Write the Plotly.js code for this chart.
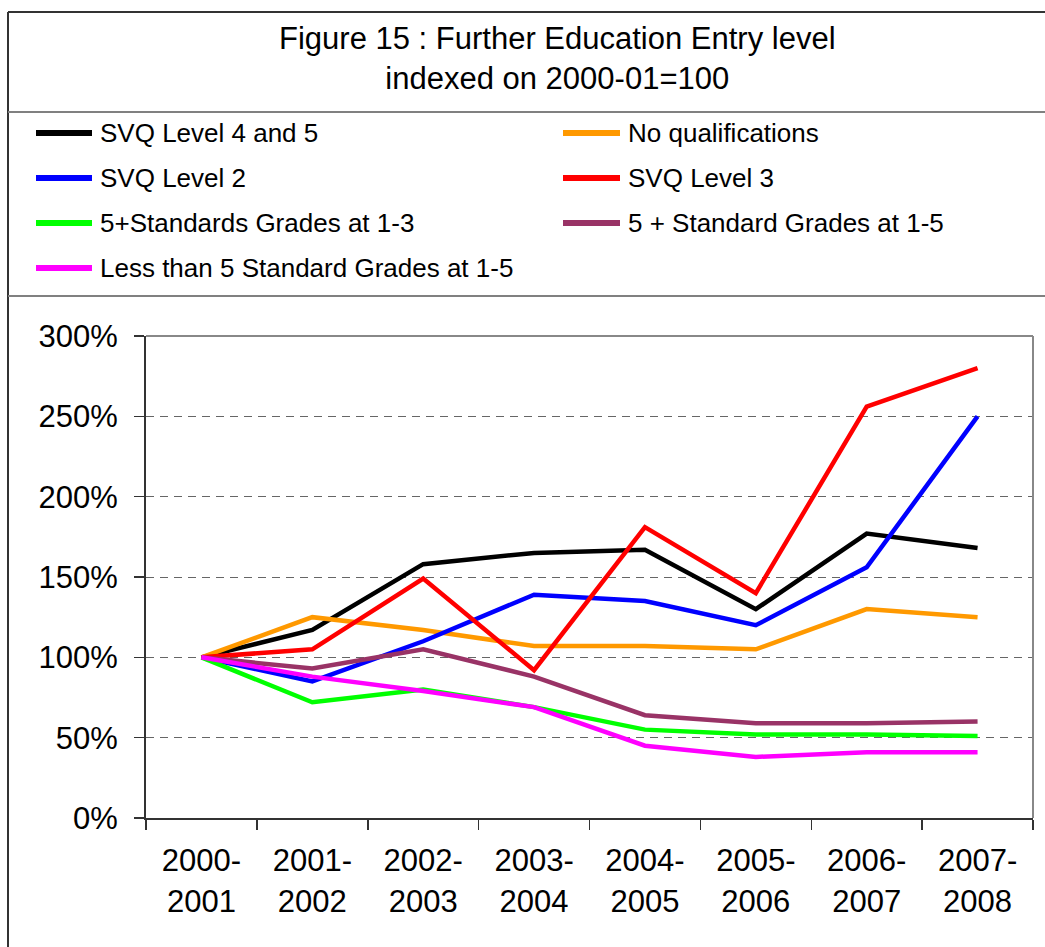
<!DOCTYPE html>
<html>
<head>
<meta charset="utf-8">
<script src="https://cdn.plot.ly/plotly-3.0.1.min.js"></script>
<style>html,body{margin:0;padding:0;background:#fff;}#chart{width:1045px;height:947px;}</style>
</head>
<body>
<div id="chart"></div>
<script>
var categories = ['2000-<br>2001','2001-<br>2002','2002-<br>2003','2003-<br>2004','2004-<br>2005','2005-<br>2006','2006-<br>2007','2007-<br>2008'];
var svq45   = [100,117,158,165,167,130,177,168];
var noQual  = [100,125,117,107,107,105,130,125];
var svq2    = [100,85,110,139,135,120,156,250];
var svq3    = [100,105,149,92,181,140,256,280];
var sg13    = [100,72,80,69,55,52,52,51];
var sg15    = [100,93,105,88,64,59,59,60];
var less5   = [100,88,79,69,45,38,41,41];
var seriesNames = ['SVQ Level 4 and 5','No qualifications','SVQ Level 2','SVQ Level 3','5+Standards Grades at 1-3','5 + Standard Grades at 1-5','Less than 5 Standard Grades at 1-5'];
var seriesData = [svq45, noQual, svq2, svq3, sg13, sg15, less5];
var colors = ['#000000','#FF9900','#0000FF','#FF0000','#00FF00','#993366','#FF00FF'];

var W = 1045, H = 947, L = 146, R = 1033, T = 336, B = 818;
function px(x){ return (x - L) / (R - L); }
function py(y){ return (B - y) / (B - T); }

var traces = seriesData.map(function(d, i){
  return {x: categories, y: d, type: 'scatter', mode: 'lines', name: seriesNames[i],
    line: {color: colors[i], width: 4.5}, hoverinfo: 'skip'};
});

var shapes = [];
var annotations = [];
// figure frame
shapes.push({type:'line', xref:'paper', yref:'paper', x0:px(8), x1:px(1045), y0:py(12), y1:py(12), line:{color:'#333333', width:2}});
shapes.push({type:'line', xref:'paper', yref:'paper', x0:px(8), x1:px(8), y0:py(12), y1:py(947), line:{color:'#333333', width:2}});
shapes.push({type:'line', xref:'paper', yref:'paper', x0:px(8), x1:px(1045), y0:py(112), y1:py(112), line:{color:'#808080', width:2}});
shapes.push({type:'line', xref:'paper', yref:'paper', x0:px(8), x1:px(1045), y0:py(296), y1:py(296), line:{color:'#808080', width:2}});
// plot frame top/right
shapes.push({type:'line', xref:'paper', yref:'paper', x0:0, x1:1, y0:1, y1:1, line:{color:'#888888', width:2}});
shapes.push({type:'line', xref:'paper', yref:'paper', x0:1, x1:1, y0:0, y1:1, line:{color:'#888888', width:2}});

annotations.push({xref:'paper', yref:'paper', x:px(557), y:py(58), xanchor:'center', yanchor:'middle',
  text:'Figure 15 : Further Education Entry level<br>indexed on 2000-01=100', showarrow:false,
  font:{family:'Liberation Sans, Arial, sans-serif', size:31, color:'#000'}});

// custom legend
var rowsY = [133,178,223,268];
seriesNames.forEach(function(n, i){
  var col = i % 2, row = Math.floor(i / 2);
  var lx0 = col === 0 ? 36 : 563, lx1 = col === 0 ? 92 : 620, tx = col === 0 ? 98 : 626;
  var y = rowsY[row];
  shapes.push({type:'line', xref:'paper', yref:'paper', x0:px(lx0), x1:px(lx1), y0:py(y), y1:py(y), line:{color:colors[i], width:6}});
  annotations.push({xref:'paper', yref:'paper', x:px(tx), y:py(y), xanchor:'left', yanchor:'middle', text:n, showarrow:false,
    font:{family:'Liberation Sans, Arial, sans-serif', size:26, color:'#000'}});
});

var layout = {
  width: W, height: H,
  margin: {l: L, r: W - R, t: T, b: H - B},
  paper_bgcolor: '#fff', plot_bgcolor: '#fff',
  showlegend: false,
  hovermode: false,
  font: {family: 'Liberation Sans, Arial, sans-serif', color: '#000'},
  xaxis: {type: 'category', range: [-0.5, 7.5], showgrid: false, zeroline: false,
    showline: true, linecolor: '#333333', linewidth: 2,
    ticks: 'outside', ticklen: 10, tickcolor: '#333333', tickwidth: 1.5, tickson: 'boundaries',
    tickfont: {size: 31, family: 'Liberation Sans, Arial, sans-serif', color: '#000'}, ticklabelstandoff: 14},
  yaxis: {range: [0, 300], dtick: 50, ticksuffix: '%', showgrid: true, gridcolor: '#666666', gridwidth: 1, griddash: '8px,6px',
    zeroline: false, showline: true, linecolor: '#333333', linewidth: 2,
    ticks: 'outside', ticklen: 10, tickcolor: '#333333', tickwidth: 1.5,
    tickfont: {size: 31, family: 'Liberation Sans, Arial, sans-serif', color: '#000'}, ticklabelstandoff: 10},
  shapes: shapes,
  annotations: annotations
};

Plotly.newPlot('chart', traces, layout, {staticPlot: true, displayModeBar: false});
</script>
</body>
</html>
